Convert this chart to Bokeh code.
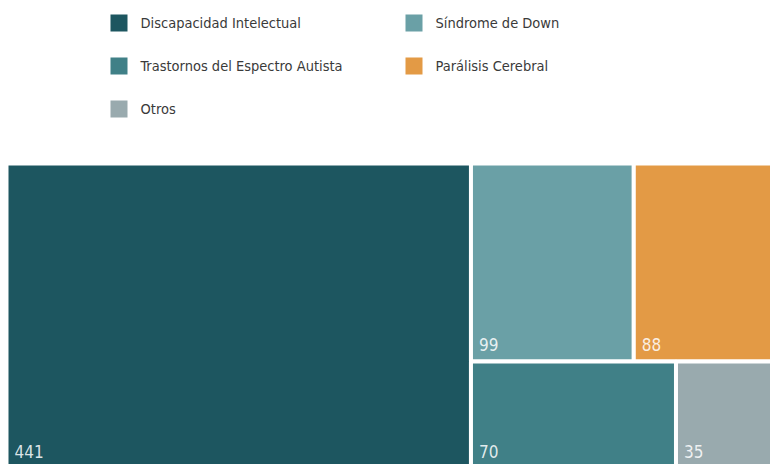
from bokeh.plotting import figure
from bokeh.models import Range1d, ColumnDataSource
from bokeh.core.properties import value
from bokeh.embed import file_html
from bokeh.resources import INLINE

# ---- data ----
categories = ["Discapacidad Intelectual", "Síndrome de Down", "Parálisis Cerebral",
              "Trastornos del Espectro Autista", "Otros"]
values = [441, 99, 88, 70, 35]
colors = ["#1d5660", "#6aa0a6", "#e39a45", "#408087", "#99aaae"]
legend_order = ["Discapacidad Intelectual", "Trastornos del Espectro Autista", "Otros",
                "Síndrome de Down", "Parálisis Cerebral"]

FONT = "DejaVu Sans Condensed"
W_FIG, H_FIG = 770, 464


def squarify(vals, x, y, w, h):
    total = sum(vals)
    scale = w * h / total
    areas = [v * scale for v in vals]
    rects = []

    def worst(row, side):
        s = sum(row)
        return max(max(side * side * r / (s * s), s * s / (side * side * r)) for r in row)

    i = 0
    while i < len(areas):
        side = min(w, h)
        row = [areas[i]]
        i += 1
        while i < len(areas) and worst(row + [areas[i]], side) <= worst(row, side):
            row.append(areas[i])
            i += 1
        s = sum(row)
        if w >= h:
            t = s / h
            yy = y
            for r in row:
                rh = r / t
                rects.append((x, yy, t, rh))
                yy += rh
            x += t
            w -= t
        else:
            t = s / w
            xx = x
            for r in row:
                rw = r / t
                rects.append((xx, y, rw, t))
                xx += rw
            y += t
            h -= t
    return rects


p = figure(width=W_FIG, height=H_FIG, output_backend="svg", toolbar_location=None,
           x_range=Range1d(0, W_FIG), y_range=Range1d(H_FIG, 0),
           min_border=0, outline_line_color=None, background_fill_color="white",
           border_fill_color="white")
p.axis.visible = False
p.grid.visible = False

# ---- treemap ----
rects = squarify(values, 6, 163, 772, 309)
src = ColumnDataSource(dict(
    left=[r[0] for r in rects],
    right=[r[0] + r[2] for r in rects],
    top=[r[1] for r in rects],
    bottom=[r[1] + r[3] for r in rects],
    color=colors,
    label=[str(v) for v in values],
    lx=[r[0] + 8 for r in rects],
    ly=[min(r[1] + r[3], 468) - 17 for r in rects],
))
p.quad(left="left", right="right", top="top", bottom="bottom", fill_color="color",
       line_color="white", line_width=4, source=src)
p.text(x="lx", y="ly", text="label", source=src, text_color="white", text_alpha=0.85,
       text_font=value(FONT), text_font_size="17px", text_baseline="alphabetic",
       text_align="left")

# ---- legend ----
col_of = {c: colors[categories.index(c)] for c in categories}
lx0 = [110 + 295 * (i // 3) for i in range(len(legend_order))]
ly0 = [22.5 + 43 * (i % 3) for i in range(len(legend_order))]
lsrc = ColumnDataSource(dict(
    x=[x + 8.5 for x in lx0], y=ly0,
    tx=[x + 30 for x in lx0],
    color=[col_of[c] for c in legend_order],
    label=legend_order,
))
p.rect(x="x", y="y", width=17, height=17, fill_color="color", line_color=None, source=lsrc)
p.text(x="tx", y="y", text="label", source=lsrc, text_color="#3a3a3a",
       text_font=value(FONT), text_font_size="14.5px", text_baseline="middle",
       text_align="left")

open("out.html", "w").write(file_html(p, INLINE))
